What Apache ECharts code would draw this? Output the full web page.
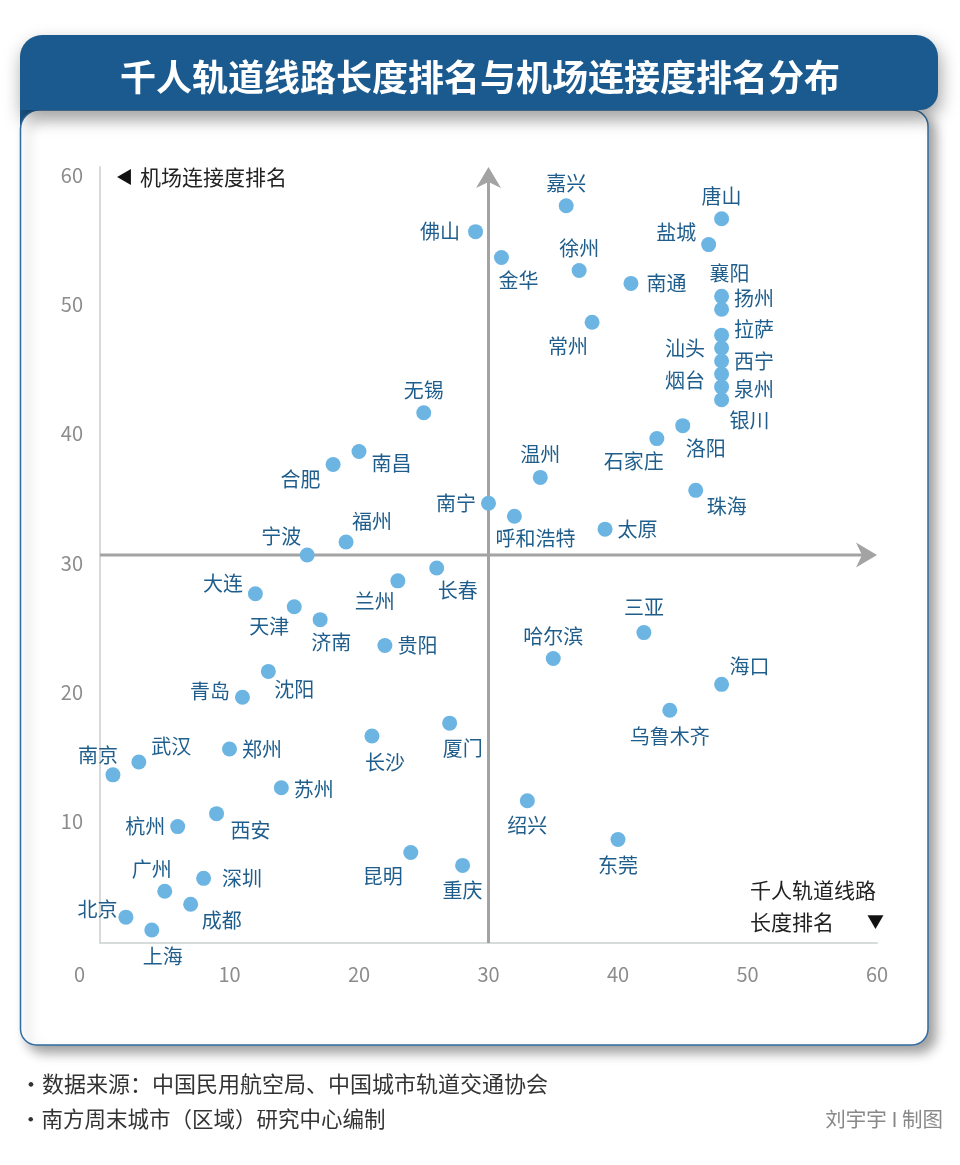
<!DOCTYPE html>
<html><head><meta charset="utf-8">
<script src="https://cdn.jsdelivr.net/npm/echarts@6/dist/echarts.min.js"></script>
<style>html,body{margin:0;padding:0;background:#fff}#c{width:960px;height:1165px}</style>
</head><body><div id="c"></div>
<script>
// ---- data ----
const cities   = ['嘉兴','唐山','佛山','金华','盐城','徐州','南通','襄阳','扬州','常州','拉萨','汕头','西宁','烟台','泉州','银川','无锡','洛阳','石家庄','南昌','合肥','温州','珠海','南宁','呼和浩特','太原','福州','宁波','长春','兰州','大连','天津','济南','三亚','贵阳','哈尔滨','沈阳','海口','青岛','乌鲁木齐','厦门','长沙','郑州','武汉','南京','苏州','绍兴','西安','杭州','东莞','昆明','重庆','深圳','广州','成都','北京','上海'];
const railRank = [36,48,29,31,47,37,41,48,48,38,48,48,48,48,48,48,25,45,43,20,18,34,46,30,32,39,19,16,26,23,12,15,17,42,22,35,13,48,11,44,27,21,10,3,1,14,33,9,6,40,24,28,8,5,7,2,4];
const airRank  = [57,56,55,53,54,52,51,50,49,48,47,46,45,44,43,42,41,40,39,38,37,36,35,34,33,32,31,30,29,28,27,26,25,24,23,22,21,20,19,18,17,16,15,14,13,12,11,10,9,8,7,6,5,4,3,2,1];
const axisTicks = [0,10,20,30,40,50,60];
const crossAt = [30,30];
const titleText = '千人轨道线路长度排名与机场连接度排名分布';
const yName = '机场连接度排名';
const xName1 = '千人轨道线路';
const xName2 = '长度排名';
const source1 = '·数据来源：中国民用航空局、中国城市轨道交通协会';
const source2 = '·南方周末城市（区域）研究中心编制';
const credit = '刘宇宇 I 制图';

// ---- label placement (style only) ----
const labelPlace = {
  '嘉兴':['top',0,0],'唐山':['top',0,0],'佛山':['left',-3,0],'金华':['bottom',17,0],'盐城':['left',0,-12],
  '徐州':['top',0,0],'南通':['right',3,0],'襄阳':['top',8,0],'扬州':['right',0,-11],'常州':['bottom',-24,2],
  '拉萨':['right',0,-6],'汕头':['left',-4,0],'西宁':['right',0,0],'烟台':['left',-4,6],'泉州':['right',0,3],
  '银川':['bottom',28,-2],'无锡':['top',0,0],'洛阳':['bottom',23,0],'石家庄':['bottom',-23,0],'南昌':['right',0,12],
  '合肥':['left',0,15],'温州':['top',0,0],'珠海':['bottom',31,-6],'南宁':['left',0,0],'呼和浩特':['bottom',21,0],
  '太原':['right',0,0],'福州':['top',26,2],'宁波':['top',-26,4],'长春':['bottom',21,0],'兰州':['bottom',-23,-2],
  '大连':['left',0,-10],'天津':['bottom',-25,-3],'济南':['bottom',11,0],'三亚':['top',0,-3],'贵阳':['right',0,0],
  '哈尔滨':['top',0,0],'沈阳':['bottom',26,-4],'海口':['top',28,5],'青岛':['left',0,-6],'乌鲁木齐':['bottom',0,4],
  '厦门':['bottom',13,3],'长沙':['bottom',13,4],'郑州':['right',0,0],'武汉':['right',0,-16],'南京':['top',-15,3],
  '苏州':['right',0,2],'绍兴':['bottom',0,2],'西安':['bottom',34,-6],'杭州':['left',0,0],'东莞':['bottom',0,3],
  '昆明':['bottom',-28,1],'重庆':['bottom',0,3],'深圳':['right',6,0],'广州':['top',-13,1],'成都':['bottom',31,-6],
  '北京':['left',4,-8],'上海':['bottom',11,4]
};

const FONT = '"Noto Sans CJK SC","Noto Sans",sans-serif';
const BLUE = '#1b5a8f';

const scatterData = cities.map((n,i)=>{
  const p = labelPlace[n] || ['top',0,0];
  return {name:n, value:[railRank[i], airRank[i]], label:{position:p[0], offset:[p[1],p[2]]}};
});

function txt(x,y,text,o){
  return Object.assign({type:'text', x:x, y:y, z:20, silent:true,
    style:Object.assign({text:text, fontFamily:FONT, fontSize:21, fill:'#222',
      textAlign:'left', textVerticalAlign:'middle', align:'left', verticalAlign:'middle'}, o||{})});
}

const chart = echarts.init(document.getElementById('c'), null, {renderer:'canvas'});
chart.setOption({
  animation:false,
  backgroundColor:'#ffffff',
  grid:{left:100, right:83, top:167, bottom:222, z:5},
  xAxis:{type:'value', min:axisTicks[0], max:axisTicks[axisTicks.length-1], interval:10, z:5,
    axisLine:{show:true, onZero:false, lineStyle:{color:'#d6dbdc', width:2}},
    axisTick:{show:false}, splitLine:{show:false},
    axisLabel:{showMinLabel:false, color:'#8c8c8c', fontSize:20, margin:21, fontFamily:FONT}},
  yAxis:{type:'value', min:axisTicks[0], max:axisTicks[axisTicks.length-1], interval:10, z:5,
    axisLine:{show:true, onZero:false, lineStyle:{color:'#d9d9d9', width:2}},
    axisTick:{show:false}, splitLine:{show:false},
    axisLabel:{showMinLabel:false, color:'#8c8c8c', fontSize:20, margin:17, verticalAlign:'top', lineHeight:16, fontFamily:FONT}},
  series:[
    {type:'custom', z:6, silent:true, data:[crossAt],
      renderItem:function(params, api){
        const cx = api.value(0), cy = api.value(1);
        const b = api.coord([cx, axisTicks[0]]), t = api.coord([cx, axisTicks[axisTicks.length-1]]);
        const l = api.coord([axisTicks[0], cy]), r = api.coord([axisTicks[axisTicks.length-1], cy]);
        const col = '#a3a3a3', L = 21, W = 12.5, N = 6;
        return {type:'group', children:[
          {type:'line', shape:{x1:b[0], y1:b[1], x2:t[0], y2:t[1]+L-N}, style:{stroke:col, lineWidth:3}},
          {type:'polygon', shape:{points:[[t[0],t[1]],[t[0]-W,t[1]+L],[t[0],t[1]+L-N],[t[0]+W,t[1]+L]]}, style:{fill:col}},
          {type:'line', shape:{x1:l[0], y1:l[1], x2:r[0]-L+N, y2:r[1]}, style:{stroke:col, lineWidth:3}},
          {type:'polygon', shape:{points:[[r[0],r[1]],[r[0]-L,r[1]-W],[r[0]-L+N,r[1]],[r[0]-L,r[1]+W]]}, style:{fill:col}}
        ]};
      }},
    {type:'scatter', z:10, symbolSize:15, data:scatterData,
      itemStyle:{color:'#6cb5e3', opacity:1},
      label:{show:true, formatter:'{b}', color:'#1f5e8c', fontSize:20, fontFamily:FONT, distance:5},
      emphasis:{disabled:true}}
  ],
  graphic:[
    {type:'rect', z:1, silent:true, shape:{x:20, y:100, width:34, height:36}, style:{fill:BLUE}},
    {type:'rect', z:2, silent:true, shape:{x:20.5, y:110, width:907.5, height:935, r:[19,16,16,16]},
      style:{fill:'#ffffff', stroke:'#2f6ca3', lineWidth:1.5, shadowBlur:12, shadowOffsetX:7, shadowOffsetY:7, shadowColor:'rgba(0,0,0,0.38)'}},
    {type:'rect', z:3, silent:true, shape:{x:20, y:35, width:918, height:75, r:[22,22,18,0]},
      style:{fill:BLUE, shadowBlur:18, shadowOffsetX:2, shadowOffsetY:8, shadowColor:'rgba(0,0,0,0.38)'}},
    txt(480, 77, titleText, {fontSize:36, fontWeight:'bold', fill:'#ffffff', textAlign:'center', align:'center'}),
    txt(116, 177, '◀', {fontSize:17, fill:'#111'}),
    txt(140, 177, yName, {fontSize:21, fill:'#222'}),
    txt(750, 890, xName1, {fontSize:21, fill:'#222'}),
    txt(750, 922, xName2, {fontSize:21, fill:'#222'}),
    txt(867, 922, '▼', {fontSize:17, fill:'#111'}),
    txt(85, 974, '0', {fontSize:20, fill:'#8c8c8c', textAlign:'right', align:'right'}),
    txt(20, 1084, source1, {fontSize:22, fill:'#333'}),
    txt(20, 1119, source2, {fontSize:21.5, fill:'#333'}),
    txt(943, 1119, credit, {fontSize:20.5, fill:'#888', textAlign:'right', align:'right'})
  ]
});
</script>
</body></html>
